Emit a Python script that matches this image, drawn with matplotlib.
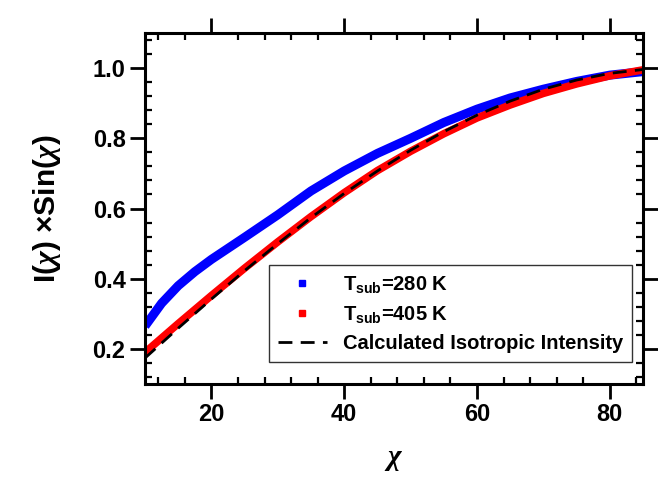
import matplotlib
matplotlib.use("Agg")
import matplotlib.pyplot as plt
from matplotlib.lines import Line2D
from matplotlib.ticker import MultipleLocator

plt.rcParams['font.family'] = ['Liberation Sans', 'DejaVu Sans']
plt.rcParams['font.weight'] = 'bold'
plt.rcParams['axes.labelweight'] = 'bold'
plt.rcParams['mathtext.fontset'] = 'custom'
plt.rcParams['mathtext.rm'] = 'Liberation Sans:bold'
plt.rcParams['mathtext.bf'] = 'Liberation Sans:bold'
plt.rcParams['mathtext.it'] = 'Liberation Serif:italic'

# values
chi_blue = [10, 12.5, 15, 17.5, 20, 25, 30, 35, 40, 45, 50, 55, 60, 65, 70, 75, 80, 85]
i_blue = [0.265, 0.33, 0.38, 0.42, 0.455, 0.518, 0.582, 0.65, 0.707, 0.757, 0.80, 0.845, 0.883, 0.915, 0.94, 0.962, 0.98, 0.99]

chi_red = [10, 15, 20, 25, 30, 35, 40, 45, 50, 55, 60, 65, 70, 75, 80, 85]
i_red = [0.19, 0.272, 0.352, 0.43, 0.505, 0.577, 0.645, 0.708, 0.763, 0.813, 0.858, 0.895, 0.928, 0.955, 0.978, 0.995]

chi_iso = [10, 15, 20, 25, 30, 35, 40, 45, 50, 55, 60, 65, 70, 75, 80, 85]
i_iso = [0.174, 0.259, 0.342, 0.423, 0.50, 0.574, 0.643, 0.707, 0.766, 0.819, 0.866, 0.906, 0.940, 0.966, 0.985, 0.996]

labels = [r'T$_{\mathrm{sub}}$=280 K', r'T$_{\mathrm{sub}}$=405 K', 'Calculated Isotropic Intensity']

fig = plt.figure(figsize=(6.58, 4.79), dpi=100)
ax = fig.add_axes([0.2204, 0.1983, 0.7568, 0.7328])

ax.plot(chi_blue, i_blue, color='#0000ff', lw=6.5, solid_capstyle='butt')
ax.plot(chi_red, i_red, color='#ff0000', lw=5.5, solid_capstyle='butt')
ax.plot(chi_iso, i_iso, color='black', lw=2, ls=(0, (5, 3)))

ax.set_xlim(10, 85)
ax.set_ylim(0.1, 1.1)
ax.xaxis.set_major_locator(MultipleLocator(20))
ax.xaxis.set_minor_locator(MultipleLocator(4))
ax.yaxis.set_major_locator(MultipleLocator(0.2))
ax.yaxis.set_minor_locator(MultipleLocator(0.04))
ax.set_yticks([0.2, 0.4, 0.6, 0.8, 1.0])
ax.set_yticklabels(['0.2', '0.4', '0.6', '0.8', '1.0'])

ax.tick_params(which='major', direction='out', length=11, width=2, top=True, right=True,
               labelsize=17, pad=3)
ax.tick_params(which='minor', direction='in', length=5, width=1.6, top=True, right=True)
for s in ax.spines.values():
    s.set_linewidth(2.2)

ax.set_xlabel(r'$\chi$', fontsize=21, labelpad=13)
ax.set_ylabel(r'I($\chi$) ×Sin($\chi$)', fontsize=21.5, labelpad=21)

handles = [Line2D([], [], marker='s', ls='none', color='#0000ff', ms=5),
           Line2D([], [], marker='s', ls='none', color='#ff0000', ms=5),
           Line2D([], [], ls=(0, (5, 3)), color='black', lw=2)]
leg = ax.legend(handles, labels, loc='lower right', bbox_to_anchor=(0.978, 0.063),
                fontsize=14.5, frameon=True, fancybox=False, edgecolor='black',
                handlelength=2.4, labelspacing=0.45, borderpad=0.45, handletextpad=0.8,
                borderaxespad=0)
leg.get_frame().set_linewidth(1)

fig.savefig('out.png', dpi=100)
